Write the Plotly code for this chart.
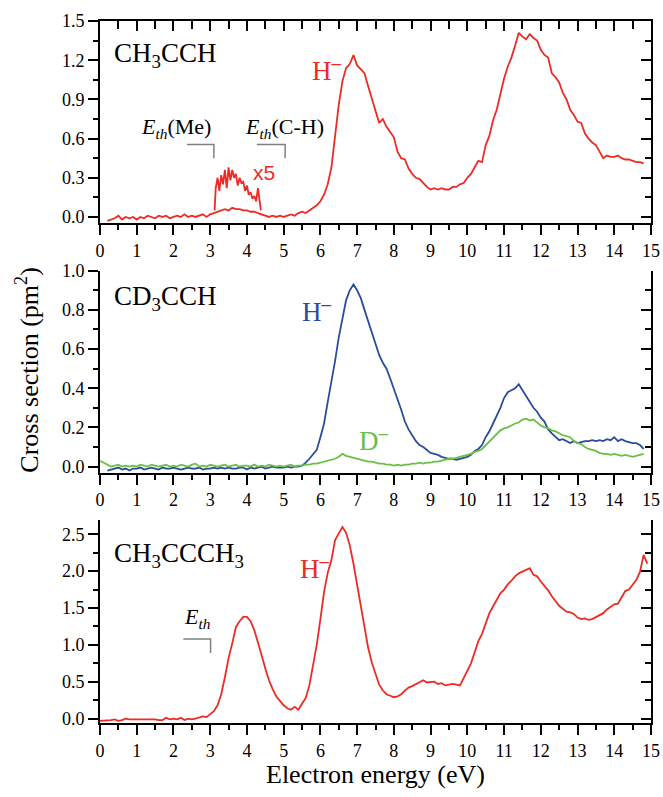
import numpy as np
import plotly.graph_objects as go

# ---------------- data ----------------
# Panel 1: CH3CCH, H- yield (energies 0.2 ... 14.8 eV, 0.1 eV steps)
e_ch3cch = np.round(np.arange(0.2, 14.85, 0.1), 2)
h_ch3cch = [
    -0.03, -0.02, -0.01, 0.01, -0.02, 0.0, -0.01, 0.0,
    -0.02, 0.0, -0.01, 0.01, 0.0, -0.01, 0.01, 0.0, 0.01, -0.01,
    0.0, 0.01, 0.0, 0.02, 0.0, 0.01, 0.0, 0.01, 0.02, 0.0,
    0.02, 0.03, 0.04, 0.05, 0.06, 0.05, 0.07, 0.06, 0.06, 0.05,
    0.05, 0.04, 0.04, 0.03, 0.02, 0.01, 0.0, 0.01, 0.0, 0.01,
    0.0, 0.01, 0.02, 0.01, 0.03, 0.04, 0.03, 0.05, 0.07, 0.09,
    0.12, 0.17, 0.25, 0.38, 0.62, 0.86, 1.04, 1.14, 1.17, 1.24,
    1.16, 1.13, 1.10, 1.00, 0.90, 0.80, 0.72, 0.75, 0.69, 0.65,
    0.61, 0.50, 0.45, 0.44, 0.37, 0.33, 0.30, 0.29, 0.26, 0.23,
    0.21, 0.22, 0.21, 0.22, 0.21, 0.21, 0.23, 0.23, 0.25, 0.26,
    0.30, 0.33, 0.38, 0.43, 0.42, 0.55, 0.62, 0.74, 0.82, 0.94,
    1.06, 1.15, 1.22, 1.31, 1.41, 1.38, 1.36, 1.40, 1.37, 1.35,
    1.28, 1.24, 1.22, 1.10, 1.07, 1.03, 0.95, 0.90, 0.82, 0.78,
    0.73, 0.72, 0.64, 0.60, 0.57, 0.55, 0.50, 0.45, 0.47, 0.46,
    0.46, 0.47, 0.45, 0.44, 0.44, 0.43, 0.42, 0.42, 0.41,
]
# x5 magnified part
e_x5 = [3.12, 3.15, 3.2, 3.25, 3.3, 3.35, 3.4, 3.45, 3.5, 3.55, 3.6, 3.65, 3.7,
        3.75, 3.8, 3.85, 3.9, 3.95, 4.0, 4.05, 4.1, 4.15, 4.2, 4.25, 4.3, 4.35, 4.38]
h_x5 = [0.05, 0.22, 0.30, 0.20, 0.32, 0.25, 0.36, 0.22, 0.38, 0.28, 0.36, 0.30, 0.33,
        0.24, 0.30, 0.26, 0.27, 0.20, 0.24, 0.17, 0.19, 0.14, 0.16, 0.12, 0.22, 0.10, 0.05]

# Panel 2: CD3CCH, H- (0.2 ... 14.8) and D- (0.0 ... 14.8)
e_cd3_h = np.round(np.arange(0.2, 14.85, 0.1), 2)
h_cd3cch = [
    -0.02, -0.015, -0.01, -0.005, -0.015, -0.01, -0.02, -0.01,
    -0.01, -0.005, -0.015, -0.01, -0.005, -0.01, -0.015, -0.005, -0.01, -0.01,
    -0.005, -0.01, -0.015, -0.01, -0.005, -0.01, -0.01, -0.005, -0.015, -0.01,
    -0.01, -0.005, -0.01, -0.005, -0.01, -0.005, -0.01, -0.01, -0.005, -0.005,
    -0.015, -0.005, -0.01, -0.005, 0.0, -0.01, -0.005, 0.0, -0.005, -0.005,
    -0.005, 0.0, -0.005, 0.0, 0.0, 0.005, 0.02, 0.04, 0.06, 0.085,
    0.15, 0.22, 0.33, 0.43, 0.54, 0.66, 0.76, 0.85, 0.90, 0.93,
    0.90, 0.86, 0.80, 0.74, 0.69, 0.63, 0.57, 0.53, 0.50, 0.45,
    0.40, 0.34, 0.29, 0.23, 0.19, 0.16, 0.13, 0.11, 0.10, 0.085,
    0.07, 0.065, 0.06, 0.05, 0.045, 0.04, 0.04, 0.035, 0.04, 0.045,
    0.05, 0.06, 0.08, 0.09, 0.11, 0.15, 0.18, 0.22, 0.26, 0.30,
    0.35, 0.38, 0.39, 0.40, 0.42, 0.39, 0.36, 0.33, 0.30, 0.28,
    0.25, 0.23, 0.19, 0.17, 0.15, 0.135, 0.14, 0.13, 0.12, 0.13,
    0.12, 0.125, 0.13, 0.13, 0.135, 0.13, 0.135, 0.13, 0.14, 0.135,
    0.15, 0.13, 0.14, 0.13, 0.125, 0.12, 0.12, 0.11, 0.09,
]
e_cd3_d = np.round(np.arange(0.0, 14.85, 0.1), 2)
d_cd3cch = [
    0.03, 0.02, 0.01, 0.0, 0.005, 0.01, 0.0, 0.005, 0.0, 0.005,
    0.0, 0.01, 0.005, 0.0, 0.01, 0.005, 0.0, 0.005, 0.01, 0.0,
    0.005, 0.0, 0.01, 0.005, 0.0, 0.01, 0.015, 0.0, 0.005, 0.0,
    0.01, 0.005, 0.0, 0.005, 0.01, 0.0, 0.005, 0.01, 0.0, 0.005,
    0.005, 0.0, 0.01, 0.0, 0.005, 0.0, 0.01, 0.005, 0.0, 0.005,
    0.0, 0.005, 0.01, 0.0, 0.005, 0.005, 0.01, 0.01, 0.015, 0.015,
    0.02, 0.025, 0.03, 0.035, 0.04, 0.05, 0.065, 0.055, 0.05, 0.045,
    0.04, 0.035, 0.03, 0.025, 0.025, 0.02, 0.015, 0.015, 0.01, 0.01,
    0.005, 0.01, 0.005, 0.01, 0.01, 0.015, 0.015, 0.02, 0.015, 0.02,
    0.02, 0.025, 0.025, 0.03, 0.035, 0.04, 0.04, 0.045, 0.05, 0.055,
    0.06, 0.065, 0.075, 0.08, 0.09, 0.11, 0.13, 0.15, 0.17, 0.185,
    0.195, 0.2, 0.21, 0.22, 0.225, 0.24, 0.245, 0.235, 0.24, 0.225,
    0.21, 0.2, 0.195, 0.185, 0.18, 0.17, 0.16, 0.155, 0.15, 0.13,
    0.12, 0.115, 0.1, 0.09, 0.085, 0.08, 0.07, 0.065, 0.065, 0.06,
    0.065, 0.06, 0.055, 0.06, 0.055, 0.05, 0.055, 0.06, 0.065,
]

# Panel 3: CH3CCCH3, H- (0.0 ... 14.9)
e_ch3ccch3 = np.round(np.arange(0.0, 14.95, 0.1), 2)
h_ch3ccch3 = [
    -0.03, -0.03, -0.03, -0.02, -0.01, -0.03, -0.02, 0.0, -0.01, -0.01,
    0.0, -0.01, 0.0, -0.01, 0.0, -0.01, -0.02, -0.02, 0.01, -0.01,
    0.0, -0.01, 0.01, -0.02, 0.0, -0.01, 0.0, 0.02, 0.03, 0.02,
    0.06, 0.10, 0.18, 0.33, 0.56, 0.82, 1.02, 1.24, 1.32, 1.38,
    1.38, 1.32, 1.20, 1.04, 0.86, 0.68, 0.52, 0.40, 0.30, 0.24,
    0.18, 0.14, 0.12, 0.16, 0.12, 0.20, 0.28, 0.45, 0.70, 1.00,
    1.35, 1.72, 1.98, 2.15, 2.42, 2.52, 2.60, 2.52, 2.35, 2.10,
    1.80, 1.52, 1.22, 0.96, 0.76, 0.60, 0.46, 0.38, 0.33, 0.31,
    0.29, 0.30, 0.33, 0.38, 0.42, 0.44, 0.47, 0.50, 0.52, 0.49,
    0.50, 0.50, 0.47, 0.48, 0.45, 0.46, 0.47, 0.46, 0.45, 0.55,
    0.66, 0.75, 0.90, 1.05, 1.15, 1.28, 1.43, 1.52, 1.62, 1.70,
    1.75, 1.82, 1.87, 1.93, 1.97, 1.99, 2.02, 2.04, 1.95, 1.93,
    1.86, 1.80, 1.74, 1.66, 1.60, 1.53, 1.49, 1.45, 1.44, 1.42,
    1.37, 1.35, 1.36, 1.34, 1.35, 1.38, 1.41, 1.43, 1.48, 1.52,
    1.55, 1.56, 1.65, 1.73, 1.75, 1.82, 1.88, 1.99, 2.22, 2.10,
]

# threshold bracket markers: (x_left, x_threshold, y_top, y_bottom)
eth_me = [2.37, 3.1, 0.555, 0.45]
eth_ch = [4.27, 5.04, 0.555, 0.45]
eth_dimethyl = [2.27, 3.01, 1.08, 0.89]

RED = "#EE2A24"
BLUE = "#2B4C9B"
GREEN = "#6ABF45"
GRAY = "#808080"
SERIF = "Liberation Serif"

fig = go.Figure()
fig.add_trace(go.Scatter(x=e_ch3cch, y=h_ch3cch, mode="lines",
                         line=dict(color=RED, width=1.8), xaxis="x", yaxis="y"))
fig.add_trace(go.Scatter(x=e_x5, y=h_x5, mode="lines",
                         line=dict(color=RED, width=1.8), xaxis="x", yaxis="y"))
fig.add_trace(go.Scatter(x=e_cd3_h, y=h_cd3cch, mode="lines",
                         line=dict(color=BLUE, width=1.8), xaxis="x2", yaxis="y2"))
fig.add_trace(go.Scatter(x=e_cd3_d, y=d_cd3cch, mode="lines",
                         line=dict(color=GREEN, width=1.8), xaxis="x2", yaxis="y2"))
fig.add_trace(go.Scatter(x=e_ch3ccch3, y=h_ch3ccch3, mode="lines",
                         line=dict(color=RED, width=1.8), xaxis="x3", yaxis="y3"))
# helper traces so that mirror axes render
for xa, ya in [("x", "y4"), ("x2", "y5"), ("x3", "y6"), ("x4", "y")]:
    fig.add_trace(go.Scatter(x=[0], y=[0], mode="markers", marker=dict(opacity=0),
                             hoverinfo="skip", xaxis=xa, yaxis=ya))

yranges = [[-0.046, 1.5], [-0.031, 1.0], [-0.06, 2.694]]
domains = [[0.7123, 1.0], [0.3566, 0.6443], [0.0, 0.2892]]
dticks = [0.3, 0.2, 0.5]

tickfont = dict(family=SERIF, size=18, color="black")
base_x = dict(range=[0, 15], dtick=1, tick0=0, ticks="outside", ticklen=10, tickwidth=2,
              tickcolor="black", showline=True, linewidth=2, linecolor="black",
              showgrid=False, zeroline=False, tickfont=tickfont, automargin=False,
              minor=dict(dtick=0.5, ticks="outside", ticklen=5, tickwidth=2, tickcolor="black"))

layout = dict(
    width=663, height=797, showlegend=False,
    plot_bgcolor="white", paper_bgcolor="white",
    font=dict(family=SERIF, size=18, color="black"),
    margin=dict(l=100, r=12, t=21, b=74, autoexpand=False),
)
for i in range(3):
    xs = "" if i == 0 else str(i + 1)
    ys = "" if i == 0 else str(i + 1)
    layout["xaxis" + xs] = dict(base_x, anchor="y" + ys, domain=[0, 1])
    layout["yaxis" + ys] = dict(
        domain=domains[i], anchor="x" + xs, range=yranges[i], dtick=dticks[i], tick0=0,
        tickformat=".1f", ticks="outside", ticklen=10, tickwidth=2, tickcolor="black",
        showline=True, linewidth=2, linecolor="black", showgrid=False, zeroline=False,
        tickfont=tickfont, automargin=False,
        minor=dict(dtick=dticks[i] / 2, ticks="outside", ticklen=5, tickwidth=2, tickcolor="black"))
    layout["yaxis" + str(i + 4)] = dict(
        overlaying="y" + ys, anchor="x" + xs, side="right", range=yranges[i],
        dtick=dticks[i], tick0=0, ticks="inside", ticklen=10, tickwidth=2, tickcolor="black",
        showticklabels=False, showline=True, linewidth=2, linecolor="black",
        showgrid=False, zeroline=False, automargin=False,
        minor=dict(dtick=dticks[i] / 2, ticks="inside", ticklen=6, tickwidth=2, tickcolor="black"))
layout["xaxis4"] = dict(
    overlaying="x", anchor="y", side="top", range=[0, 15], dtick=1, tick0=0,
    ticks="inside", ticklen=10, tickwidth=2, tickcolor="black", showticklabels=False,
    showline=True, linewidth=2, linecolor="black", showgrid=False, zeroline=False,
    automargin=False,
    minor=dict(dtick=0.5, ticks="inside", ticklen=8, tickwidth=2, tickcolor="black"))
fig.update_layout(**layout)


def ann(text, x, y, xref, yref, color="black", size=27, family=SERIF, xanchor="left", **kw):
    fig.add_annotation(text=text, x=x, y=y, xref=xref, yref=yref, showarrow=False,
                       xanchor=xanchor, yanchor="middle",
                       font=dict(family=family, size=size, color=color), **kw)


HM = "H<sup><b>–</b></sup>"
DM = "D<sup><b>–</b></sup>"
# panel 1
ann("CH<sub>3</sub>CCH", 0.33, 1.24, "x", "y")
ann(HM, 5.72, 1.13, "x", "y", color=RED)
ann("<i>E<sub>th</sub></i>(Me)", 1.05, 0.68, "x", "y", size=22)
ann("<i>E<sub>th</sub></i>(C-H)", 3.9, 0.68, "x", "y", size=22)
ann("x5", 4.12, 0.34, "x", "y", color=RED, size=21, family="Liberation Sans")
# panel 2
ann("CD<sub>3</sub>CCH", 0.33, 0.86, "x2", "y2")
ann(HM, 5.45, 0.80, "x2", "y2", color=BLUE)
ann(DM, 7.0, 0.14, "x2", "y2", color=GREEN)
# panel 3
ann("CH<sub>3</sub>CCCH<sub>3</sub>", 0.33, 2.22, "x3", "y3")
ann(HM, 5.38, 2.06, "x3", "y3", color=RED)
ann("<i>E<sub>th</sub></i>", 2.22, 1.36, "x3", "y3", size=22)

# axis titles
ann("Electron energy (eV)", 0.5, -0.074, "paper", "paper", size=26, xanchor="center")
ann("Cross section (pm<sup>2</sup>)", -0.131, 0.503, "paper", "paper", size=26,
    xanchor="center", textangle=-90)

# threshold brackets
for b, xr, yr in [(eth_me, "x", "y"), (eth_ch, "x", "y"), (eth_dimethyl, "x3", "y3")]:
    fig.add_shape(type="path", xref=xr, yref=yr,
                  path=f"M {b[0]} {b[2]} L {b[1]} {b[2]} L {b[1]} {b[3]}",
                  line=dict(color=GRAY, width=1.5))

fig.write_html("out.html", config={"displayModeBar": False},
               post_script="document.body.style.margin='0px';document.body.style.overflow='hidden';")
